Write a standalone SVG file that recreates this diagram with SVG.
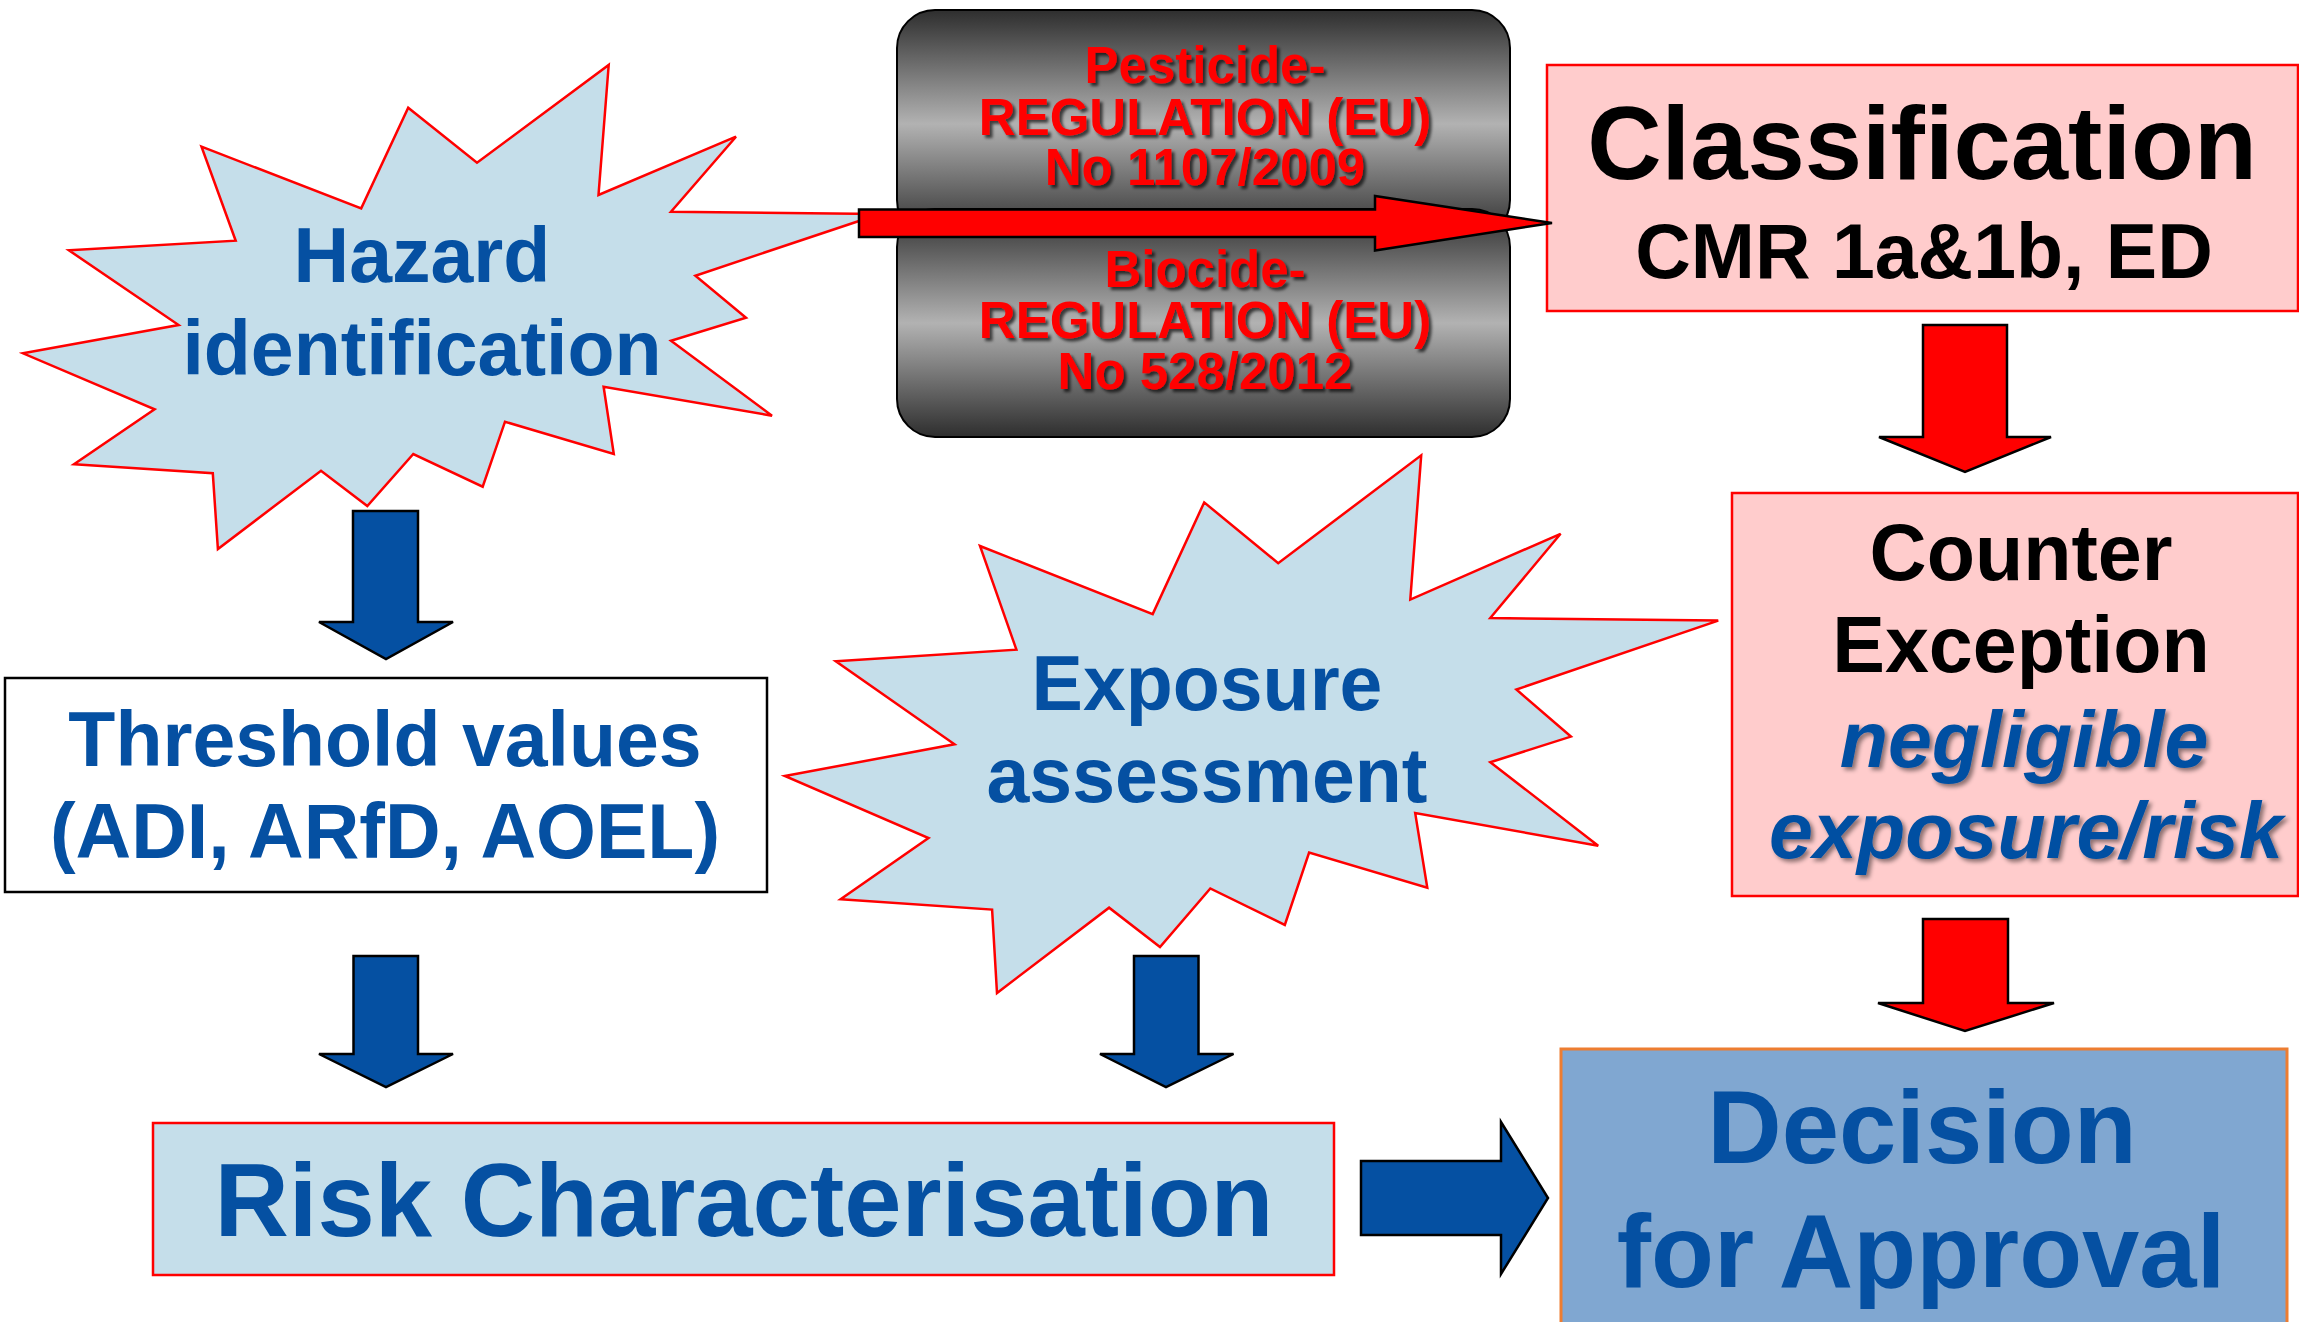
<svg xmlns="http://www.w3.org/2000/svg" width="2299" height="1322" viewBox="0 0 2299 1322">
<defs>
<linearGradient id="gray" x1="0" y1="0" x2="0" y2="1">
<stop offset="0" stop-color="#2e2e2e"/>
<stop offset="0.5" stop-color="#b2b2b2"/>
<stop offset="1" stop-color="#2e2e2e"/>
</linearGradient>
<filter id="shadow" x="-5%" y="-20%" width="110%" height="140%">
<feDropShadow dx="3" dy="3" stdDeviation="1.5" flood-color="#000" flood-opacity="0.65"/>
</filter>
<filter id="shadow2" x="-5%" y="-20%" width="110%" height="140%">
<feDropShadow dx="3" dy="3" stdDeviation="2" flood-color="#000" flood-opacity="0.45"/>
</filter>
</defs>
<style>
text{font-family:"Liberation Sans",Arial,sans-serif;font-weight:bold;text-anchor:middle}
.blue{fill:#0550A2}
.black{fill:#000}
.star{fill:#C5DEEA;stroke:#FF0000;stroke-width:2.5;stroke-linejoin:miter}
.reg{fill:url(#gray);stroke:#000;stroke-width:2}
.regt{fill:#FF0000;font-size:51px;filter:url(#shadow)}
.pink{fill:#FFCCCC;stroke:#FF0000;stroke-width:2.5}
.barrow{fill:#0550A2;stroke:#000;stroke-width:2.5;stroke-linejoin:miter}
.rarrow{fill:#FF0000;stroke:#000;stroke-width:2.5;stroke-linejoin:miter}
.f77{font-size:77px}
.f103{font-size:103px}
.ital{font-style:italic;fill:#0550A2;filter:url(#shadow2)}
</style>
<rect width="2299" height="1322" fill="#fff"/>

<g id="hazard">
<polygon class="star" points="608.7,65 598.5,195 736,136.7 671,211.7 880,214 695.4,275.7 746,317.7 671,340.7 772,415.7 603.6,386.7 613.8,454 505,421.7 482.7,486.7 413.3,454 367.3,506 321,470.7 217.9,549 212.8,473.3 74,464.3 154.6,409.3 23,353.3 178.6,325 68.9,250.3 235.7,240.7 201.5,146.7 361.2,208.3 408.2,107.7 477,162.7"/>
<text class="blue f77" x="422" y="282">Hazard</text>
<text class="blue f77" x="422" y="375">identification</text>
</g>

<g id="exposure">
<polygon class="star" points="1421.2,455.3 1410.3,599.6 1560.6,533.8 1490.3,618 1718.2,620.6 1516.4,689.5 1570.9,736.6 1490.3,762.2 1598.2,845.7 1415.2,813.1 1427.3,887.8 1309.1,852.5 1284.8,924.9 1210.3,888.5 1160,947.1 1109.1,907.7 997,993 992.1,909.6 840.6,899.2 928.5,838 784.8,776 954.5,744.3 835.8,661.2 1016.4,649.7 980,546 1152.7,614.1 1204.2,502.4 1278.2,563.2"/>
<text class="blue f77" x="1207" y="710">Exposure</text>
<text class="blue f77" x="1207" y="802">assessment</text>
</g>

<g id="pesticide-regulation">
<rect class="reg" x="897" y="10" width="613" height="228" rx="38" ry="38"/>
<text class="regt" x="1205" y="83">Pesticide-</text>
<text class="regt" x="1205" y="135">REGULATION (EU)</text>
<text class="regt" x="1205" y="185">No 1107/2009</text>
</g>

<g id="biocide-regulation">
<rect class="reg" x="897" y="209" width="613" height="228" rx="38" ry="38"/>
<text class="regt" x="1205" y="287">Biocide-</text>
<text class="regt" x="1205" y="338">REGULATION (EU)</text>
<text class="regt" x="1205" y="389">No 528/2012</text>
</g>

<g id="classification">
<rect class="pink" x="1547" y="65" width="751" height="246"/>
<text class="black f103" x="1922" y="179">Classification</text>
<text class="black f77" x="1924" y="278">CMR 1a&amp;1b, ED</text>
</g>

<g id="counter-exception">
<rect class="pink" x="1732" y="493" width="566" height="403"/>
<text class="black" style="font-size:79px" x="2021" y="580">Counter</text>
<text class="black" style="font-size:79px" x="2021" y="672">Exception</text>
<text class="ital" style="font-size:79px" x="2024" y="767">negligible</text>
<text class="ital" style="font-size:79px" x="2026" y="858">exposure/risk</text>
</g>

<g id="threshold">
<rect x="5" y="678" width="762" height="214" fill="#fff" stroke="#000" stroke-width="2.5"/>
<text class="blue f77" x="385" y="766">Threshold values</text>
<text class="blue f77" x="385" y="858">(ADI, ARfD, AOEL)</text>
</g>

<g id="risk-characterisation">
<rect x="153" y="1123" width="1181" height="152" fill="#C5DEEA" stroke="#FF0000" stroke-width="2.5"/>
<text class="blue f103" x="744" y="1236">Risk Characterisation</text>
</g>

<g id="decision">
<rect x="1561" y="1049" width="726" height="290" fill="#80A7D1" stroke="#ED7D31" stroke-width="3"/>
<text class="blue f103" x="1922" y="1163">Decision</text>
<text class="blue f103" x="1921" y="1287">for Approval</text>
</g>

<g id="connectors">
<polygon class="rarrow" points="859,209.5 1375,209.5 1375,196 1552,223 1375,250.5 1375,237 859,237"/>
<polygon class="barrow" points="353,511 418,511 418,622 453,622 386,659 319,622 353,622"/>
<polygon class="barrow" points="353.5,956 418,956 418,1054 453,1054 386,1087 319,1054 353.5,1054"/>
<polygon class="barrow" points="1134,956 1198.5,956 1198.5,1054 1233.5,1054 1166,1087 1100,1054 1134,1054"/>
<polygon class="rarrow" points="1923,325 2007,325 2007,437 2051,437 1965,472 1879,437 1923,437"/>
<polygon class="rarrow" points="1923,919 2008,919 2008,1003 2054,1003 1965,1031 1878,1003 1923,1003"/>
<polygon class="barrow" points="1361,1161 1501,1161 1501,1122 1548,1198 1501,1274 1501,1235 1361,1235"/>
</g>
</svg>
